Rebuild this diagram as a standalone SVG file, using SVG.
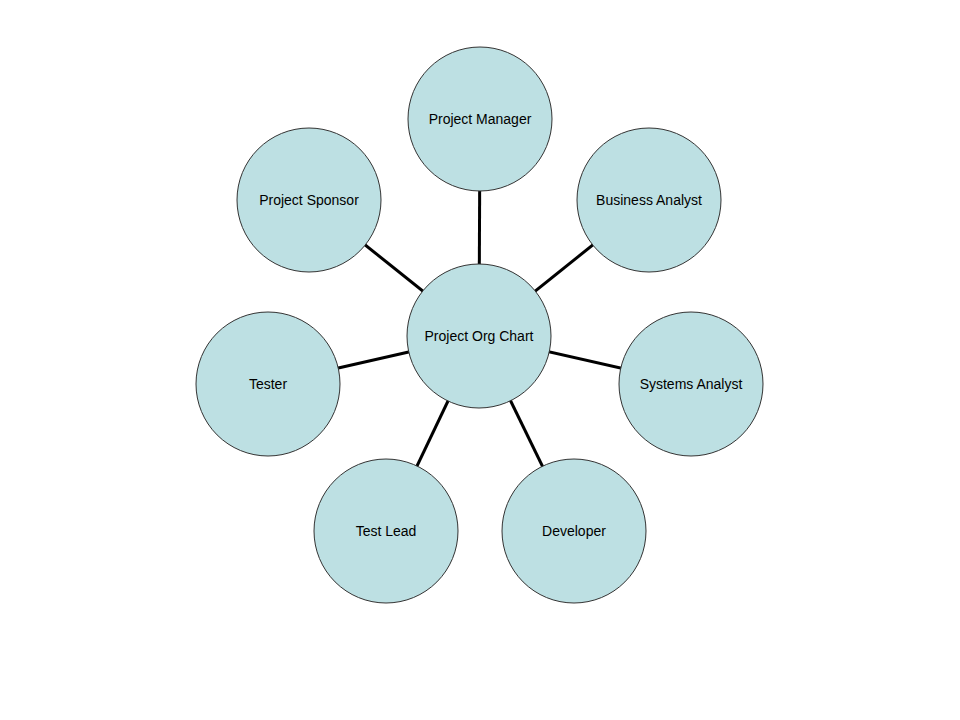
<svg xmlns="http://www.w3.org/2000/svg" width="960" height="720" viewBox="0 0 960 720">
<style>
circle{fill:#bde0e3;stroke:#333;stroke-width:1}
text{font-family:"Liberation Sans",Arial,sans-serif;font-size:14px;fill:#000;text-anchor:middle;dominant-baseline:central}
.c line{stroke:#000;stroke-width:3}
</style>
<rect width="960" height="720" fill="#fff"/>
<g class="c" id="connectors">
<line x1="479" y1="336" x2="480" y2="119"/>
<line x1="479" y1="336" x2="649" y2="200"/>
<line x1="479" y1="336" x2="691" y2="384"/>
<line x1="479" y1="336" x2="574" y2="531"/>
<line x1="479" y1="336" x2="386" y2="531"/>
<line x1="479" y1="336" x2="268" y2="384"/>
<line x1="479" y1="336" x2="309" y2="200"/>
</g>
<g id="pm"><circle cx="480" cy="119" r="72"/><text x="480" y="119">Project Manager</text></g>
<g id="ba"><circle cx="649" cy="200" r="72"/><text x="649" y="200">Business Analyst</text></g>
<g id="sa"><circle cx="691" cy="384" r="72"/><text x="691" y="384">Systems Analyst</text></g>
<g id="dev"><circle cx="574" cy="531" r="72"/><text x="574" y="531">Developer</text></g>
<g id="tl"><circle cx="386" cy="531" r="72"/><text x="386" y="531">Test Lead</text></g>
<g id="tester"><circle cx="268" cy="384" r="72"/><text x="268" y="384">Tester</text></g>
<g id="ps"><circle cx="309" cy="200" r="72"/><text x="309" y="200">Project Sponsor</text></g>
<g id="center"><circle cx="479" cy="336" r="72"/><text x="479" y="336">Project Org Chart</text></g>
</svg>
